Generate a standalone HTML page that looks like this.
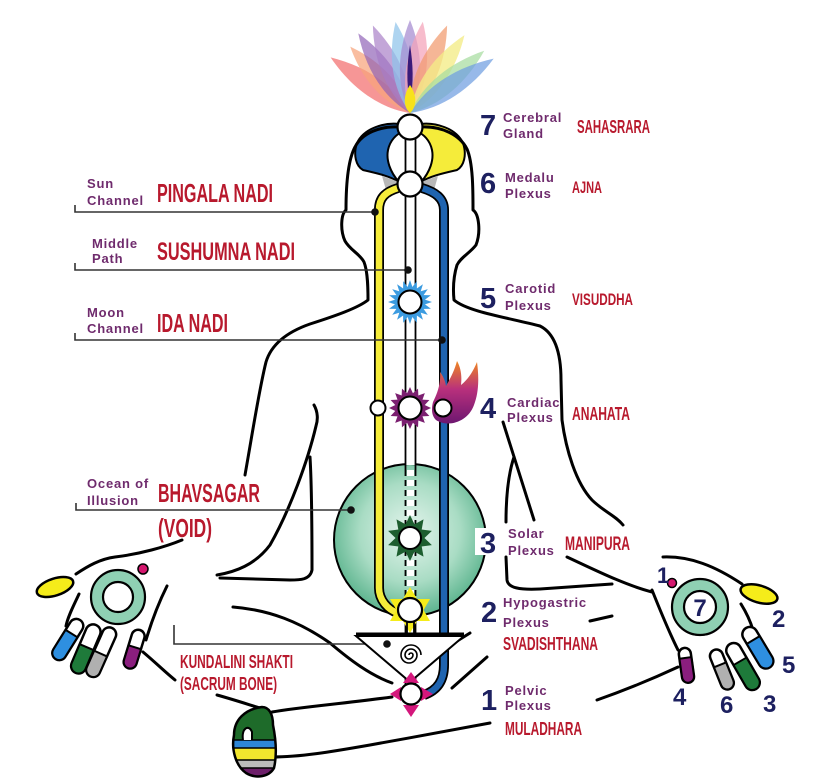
<!DOCTYPE html>
<html>
<head>
<meta charset="utf-8">
<style>
  html,body{margin:0;padding:0;background:#fff;}
  svg{display:block;}
  .sm{font-family:"Liberation Sans",Arial,sans-serif;font-weight:bold;font-size:13px;fill:#6f2b6d;letter-spacing:0.8px;}
  .rd{font-family:"Liberation Sans Narrow","Liberation Sans",Arial,sans-serif;font-weight:bold;fill:#b8192d;}
  .nm{font-family:"Liberation Sans",Arial,sans-serif;font-weight:bold;fill:#1d2060;}
  .ol{fill:none;stroke:#000;stroke-width:3;stroke-linecap:round;stroke-linejoin:round;}
  .pl{fill:none;stroke:#333;stroke-width:1.6;}
</style>
</head>
<body>
<svg width="825" height="784" viewBox="0 0 825 784" xmlns="http://www.w3.org/2000/svg">
<defs>
  <radialGradient id="gc" cx="0.5" cy="0.45" r="0.55">
    <stop offset="0" stop-color="#e6f5ee"/>
    <stop offset="0.6" stop-color="#a9dcc4"/>
    <stop offset="1" stop-color="#5cb48e"/>
  </radialGradient>
  <linearGradient id="fl" x1="0" y1="360" x2="0" y2="425" gradientUnits="userSpaceOnUse">
    <stop offset="0" stop-color="#f28a1e"/>
    <stop offset="0.45" stop-color="#b8307c"/>
    <stop offset="1" stop-color="#6a1670"/>
  </linearGradient>
  <polygon id="spB" points="-3.4,-12 0,-22 3.4,-12" fill="#3b9be0"/>
  <polygon id="spP" points="-4.2,-12 0,-21 4.2,-12" fill="#7b1f70"/>
  <polygon id="spG" points="-5.8,-11 0,-23 5.8,-11" fill="#1d5e2f"/>
  <path id="pet" d="M0,0 C-14,-28 -13,-62 0,-95 C13,-62 14,-28 0,0Z"/>
  <clipPath id="fistc"><path d="M262,707 C245,709 234,720 234,735 C231,750 236,766 246,773 C256,779 269,777 274,768 C277,755 276,740 273,725 C273,714 269,707 262,707 Z"/></clipPath>
</defs>

<rect width="825" height="784" fill="#fff"/>

<!-- Rainbow crown -->
<g transform="translate(410,113)">
  <use href="#pet" transform="rotate(-55) scale(1,1.02)" fill="#f26d6d" opacity="0.72"/>
  <use href="#pet" transform="rotate(-42) scale(1,0.94)" fill="#f6a37c" opacity="0.72"/>
  <use href="#pet" transform="rotate(-33)" fill="#8e5fb5" opacity="0.68"/>
  <use href="#pet" transform="rotate(-23)" fill="#a77cc5" opacity="0.68"/>
  <use href="#pet" transform="rotate(-9) scale(1,0.97)" fill="#8fc3ea" opacity="0.72"/>
  <use href="#pet" transform="rotate(0) scale(1,0.98)" fill="#a58bd0" opacity="0.72"/>
  <use href="#pet" transform="rotate(8) scale(1,0.97)" fill="#f4a2b8" opacity="0.72"/>
  <use href="#pet" transform="rotate(23)" fill="#f19a6e" opacity="0.72"/>
  <use href="#pet" transform="rotate(35)" fill="#f3ec86" opacity="0.78"/>
  <use href="#pet" transform="rotate(50) scale(1,1.02)" fill="#a6dca0" opacity="0.72"/>
  <use href="#pet" transform="rotate(57) scale(1,1.05)" fill="#6f9ee0" opacity="0.72"/>
  <path d="M0,-10 C-4,-30 -3,-50 0,-68 C3,-50 4,-30 0,-10Z" fill="#3a1a7a"/>
  <path d="M0,0 C-7,-6 -7,-18 0,-28 C7,-18 7,-6 0,0Z" fill="#f7e21a"/>
</g>

<!-- Head lobes -->
<path d="M400,124 C385,122 364,128 357,143 C353,155 356,166 363,170 C376,173 390,176 399,182 C390,172 386,160 388,150 C390,140 397,134 402,132 Z" fill="#1f64b0" stroke="#000" stroke-width="2"/>
<path d="M420,124 C435,122 456,128 463,143 C467,155 464,166 457,170 C444,173 430,176 421,182 C430,172 434,160 432,150 C430,140 423,134 418,132 Z" fill="#f5ec3a" stroke="#000" stroke-width="2"/>
<polygon points="382,176 399,182 397,193 386,190" fill="#b8b8b8"/>
<polygon points="438,176 421,182 423,193 434,190" fill="#b8b8b8"/>

<!-- Body outlines -->
<path class="ol" d="M399,127 C380,126 362,133 355,147 C348,160 346,185 346,210 C341,214 340,230 345,241 C350,250 360,254 364,262 C368,272 368,290 368,300 C358,308 335,316 310,324 C290,331 272,342 266,362 C259,390 253,430 245,475"/>
<path class="ol" d="M421,127 C442,126 460,135 467,149 C473,163 473,190 473,210 C479,214 481,232 476,245 C470,253 461,257 457,265 C453,278 453,290 454,300 C468,312 510,318 540,326 C556,334 561,355 561,380 L562,420 C566,450 576,483 592,500 C603,511 616,516 623,525"/>
<!-- right inner arm -->
<path class="ol" d="M503,422 L534,520"/>
<path class="ol" d="M514,457 C508,475 506,500 506,522"/>
<path class="ol" d="M506,557 L507,580 C508,588 520,590 540,589 L612,584"/>
<path class="ol" d="M567,557 C595,570 625,585 652,592"/>
<!-- left elbow -->
<path class="ol" d="M314,405 C318,412 318,420 316,426 C308,460 290,510 270,545 C255,565 235,572 217,575"/>
<path class="ol" d="M310,457 C312,490 312,540 312,570 C310,580 300,580 290,580 L220,578"/>
<!-- left hand top -->
<path class="ol" d="M182,540 C165,547 140,554 115,557 C100,559 88,566 76,574"/>
<path class="ol" d="M79,594 C74,605 68,616 66,626"/>
<path class="ol" d="M167,586 C160,600 152,620 146,640"/>
<!-- thigh / legs -->
<path class="ol" d="M233,607 C270,610 300,622 330,643 C350,660 370,675 392,683"/>
<path class="ol" d="M143,652 C155,662 165,672 175,680"/>
<path class="ol" d="M217,695 C235,700 250,705 260,708"/>
<path class="ol" d="M272,712 C300,707 340,704 392,697"/>
<path class="ol" d="M272,757 C300,757 330,752 370,745 C410,738 445,731 490,723"/>
<path class="ol" d="M449,646 L470,633"/>
<path class="ol" d="M590,621 L612,616"/>
<path class="ol" d="M452,688 L487,657"/>
<path class="ol" d="M597,700 C620,692 650,680 678,667"/>
<!-- right hand outline -->
<path class="ol" d="M663,557 C690,556 715,566 742,584"/>
<path class="ol" d="M741,604 C746,612 750,620 753,630"/>
<path class="ol" d="M652,590 C660,610 668,630 678,650"/>

<!-- Green ocean circle -->
<circle cx="410" cy="540" r="76" fill="url(#gc)" stroke="#000" stroke-width="2"/>

<!-- Sushumna central lines -->
<rect x="406" y="139" width="9" height="326" fill="#fff"/>
<line x1="405.5" y1="139" x2="405.5" y2="470" stroke="#000" stroke-width="1.8"/>
<line x1="415.5" y1="139" x2="415.5" y2="470" stroke="#000" stroke-width="1.8"/>
<line x1="410.5" y1="470" x2="410.5" y2="600" stroke="#fff" stroke-width="7" stroke-dasharray="6 4"/>
<line x1="405.5" y1="470" x2="405.5" y2="600" stroke="#000" stroke-width="1.8" stroke-dasharray="6 4"/>
<line x1="415.5" y1="470" x2="415.5" y2="600" stroke="#000" stroke-width="1.8" stroke-dasharray="6 4"/>
<rect x="406" y="620" width="9" height="70" fill="#fff"/>
<line x1="405.5" y1="620" x2="405.5" y2="690" stroke="#000" stroke-width="1.8"/>
<line x1="415.5" y1="620" x2="415.5" y2="690" stroke="#000" stroke-width="1.8"/>

<!-- Yellow (Pingala) channel -->
<path d="M398,188 C385,192 379,198 379,210 L379,588 C379,600 388,610 398,613" fill="none" stroke="#000" stroke-width="10"/>
<path d="M398,188 C385,192 379,198 379,210 L379,588 C379,600 388,610 398,613" fill="none" stroke="#f5ec3a" stroke-width="6.5"/>
<!-- Blue (Ida) channel -->
<path d="M422,188 C435,192 444,198 444,210 L444,665 C444,680 438,690 424,695" fill="none" stroke="#000" stroke-width="10"/>
<path d="M422,188 C435,192 444,198 444,210 L444,665 C444,680 438,690 424,695" fill="none" stroke="#1f64b0" stroke-width="6.5"/>

<!-- Pointer lines -->
<path class="pl" d="M75,205 V212 H376"/><circle cx="375" cy="212" r="3.8" fill="#111"/>
<path class="pl" d="M75,263 V270 H408"/><circle cx="408" cy="270" r="3.8" fill="#111"/>
<path class="pl" d="M75,333 V340 H442"/><circle cx="442" cy="340" r="3.8" fill="#111"/>
<path class="pl" d="M76,503 V510 H351"/><circle cx="351" cy="510" r="3.8" fill="#111"/>
<path class="pl" d="M174,625 V644 H387"/>

<!-- Chakra 7, 6 -->
<circle cx="410" cy="127" r="12.5" fill="#fff" stroke="#000" stroke-width="2.2"/>
<circle cx="410" cy="184" r="12.5" fill="#fff" stroke="#000" stroke-width="2.2"/>

<!-- Chakra 5 blue star -->
<g transform="translate(410,302)">
  <circle r="15" fill="#3b9be0"/>
  <use href="#spB"/><use href="#spB" transform="rotate(18)"/><use href="#spB" transform="rotate(36)"/><use href="#spB" transform="rotate(54)"/><use href="#spB" transform="rotate(72)"/>
  <use href="#spB" transform="rotate(90)"/><use href="#spB" transform="rotate(108)"/><use href="#spB" transform="rotate(126)"/><use href="#spB" transform="rotate(144)"/><use href="#spB" transform="rotate(162)"/>
  <use href="#spB" transform="rotate(180)"/><use href="#spB" transform="rotate(198)"/><use href="#spB" transform="rotate(216)"/><use href="#spB" transform="rotate(234)"/><use href="#spB" transform="rotate(252)"/>
  <use href="#spB" transform="rotate(270)"/><use href="#spB" transform="rotate(288)"/><use href="#spB" transform="rotate(306)"/><use href="#spB" transform="rotate(324)"/><use href="#spB" transform="rotate(342)"/>
  <circle r="11.5" fill="#fff" stroke="#000" stroke-width="2"/>
</g>

<!-- Flame -->
<path d="M436,420 C448,428 468,422 474,405 C479,392 479,377 477,362 C472,374 467,380 461,385 C462,376 461,368 457,361 C454,372 450,379 446,386 C445,380 443,376 440,372 C441,384 437,394 433,402 C431,410 432,416 436,420 Z" fill="url(#fl)"/>

<!-- Chakra 4 purple star -->
<g transform="translate(410,408)">
  <circle r="14.5" fill="#7b1f70"/>
  <use href="#spP"/><use href="#spP" transform="rotate(22.5)"/><use href="#spP" transform="rotate(45)"/><use href="#spP" transform="rotate(67.5)"/>
  <use href="#spP" transform="rotate(90)"/><use href="#spP" transform="rotate(112.5)"/><use href="#spP" transform="rotate(135)"/><use href="#spP" transform="rotate(157.5)"/>
  <use href="#spP" transform="rotate(180)"/><use href="#spP" transform="rotate(202.5)"/><use href="#spP" transform="rotate(225)"/><use href="#spP" transform="rotate(247.5)"/>
  <use href="#spP" transform="rotate(270)"/><use href="#spP" transform="rotate(292.5)"/><use href="#spP" transform="rotate(315)"/><use href="#spP" transform="rotate(337.5)"/>
  <circle r="11.5" fill="#fff" stroke="#000" stroke-width="2"/>
</g>
<circle cx="378" cy="408" r="7.5" fill="#fff" stroke="#000" stroke-width="2"/>
<circle cx="443" cy="408" r="8.5" fill="#fff" stroke="#000" stroke-width="2"/>

<!-- Chakra 3 green star -->
<g transform="translate(410,538)">
  <circle r="13.5" fill="#1d5e2f"/>
  <use href="#spG"/><use href="#spG" transform="rotate(36)"/><use href="#spG" transform="rotate(72)"/><use href="#spG" transform="rotate(108)"/><use href="#spG" transform="rotate(144)"/>
  <use href="#spG" transform="rotate(180)"/><use href="#spG" transform="rotate(216)"/><use href="#spG" transform="rotate(252)"/><use href="#spG" transform="rotate(288)"/><use href="#spG" transform="rotate(324)"/>
  <circle r="11" fill="#fff" stroke="#000" stroke-width="2"/>
</g>

<!-- Chakra 2 yellow star -->
<polygon points="410,587 430,621 390,621" fill="#f5ec1a"/>
<polygon points="410,633 430,599 390,599" fill="#f5ec1a"/>
<circle cx="410" cy="610" r="12" fill="#fff" stroke="#000" stroke-width="2.2"/>
<line x1="407" y1="622" x2="407" y2="635" stroke="#000" stroke-width="1.8"/>
<line x1="414" y1="622" x2="414" y2="635" stroke="#000" stroke-width="1.8"/>

<!-- Triangle with spiral -->
<polygon points="356,636 464,636 410,682" fill="#fff" stroke="#000" stroke-width="2"/>
<line x1="356" y1="634" x2="464" y2="634" stroke="#000" stroke-width="3"/>
<path d="M409,655 a2,2 0 1,1 4,0 a4,4 0 1,1 -8,0 a6,6 0 1,1 12,0 a8,8 0 1,1 -16,0 a10,10 0 1,1 20,0" fill="none" stroke="#000" stroke-width="1.6"/>
<circle cx="387" cy="644" r="3.8" fill="#111"/>

<!-- Chakra 1 -->
<polygon points="403,683 419,683 411,672" fill="#d4177c"/>
<polygon points="401,687 401,701 390,694" fill="#d4177c"/>
<polygon points="421,687 421,701 433,694" fill="#d4177c"/>
<polygon points="403,705 419,705 411,717" fill="#d4177c"/>
<circle cx="411" cy="694" r="10.5" fill="#fff" stroke="#000" stroke-width="2.2"/>

<!-- Left hand -->
<ellipse cx="55" cy="587" rx="19" ry="8.5" transform="rotate(-18 55 587)" fill="#f5ec1a" stroke="#000" stroke-width="2.5"/>
<g transform="translate(80,620) rotate(32)"><rect x="-7" y="0" width="14" height="46" rx="7" fill="#fff" stroke="#000" stroke-width="2.5"/><path d="M-7,16 H7 V39 A7,7 0 0 1 -7,39 Z" fill="#2e8fe0" stroke="#000" stroke-width="2"/></g>
<g transform="translate(96,625) rotate(23)"><rect x="-7.5" y="0" width="15" height="52" rx="7.5" fill="#fff" stroke="#000" stroke-width="2.5"/><path d="M-7.5,24 H7.5 V44.5 A7.5,7.5 0 0 1 -7.5,44.5 Z" fill="#1e7a3a" stroke="#000" stroke-width="2"/></g>
<g transform="translate(112,628) rotate(24)"><rect x="-7" y="0" width="14" height="53" rx="7" fill="#fff" stroke="#000" stroke-width="2.5"/><path d="M-7,28 H7 V46 A7,7 0 0 1 -7,46 Z" fill="#b0b0b0" stroke="#000" stroke-width="2"/></g>
<g transform="translate(140,630) rotate(17)"><rect x="-6.5" y="0" width="13" height="40" rx="6.5" fill="#fff" stroke="#000" stroke-width="2.5"/><path d="M-6.5,18 H6.5 V33.5 A6.5,6.5 0 0 1 -6.5,33.5 Z" fill="#8a1e7e" stroke="#000" stroke-width="2"/></g>
<circle cx="118" cy="597" r="27" fill="#8fd0b3" stroke="#000" stroke-width="2.2"/>
<circle cx="118" cy="597" r="15" fill="#fff" stroke="#000" stroke-width="2.2"/>
<circle cx="143" cy="569" r="5" fill="#d4176e" stroke="#000" stroke-width="1.5"/>

<!-- Right hand -->
<ellipse cx="759" cy="594" rx="19" ry="8.5" transform="rotate(16 759 594)" fill="#f5ec1a" stroke="#000" stroke-width="2.5"/>
<g transform="translate(746,628) rotate(-31)"><rect x="-7.5" y="0" width="15" height="46" rx="7.5" fill="#fff" stroke="#000" stroke-width="2.5"/><path d="M-7.5,14 H7.5 V38.5 A7.5,7.5 0 0 1 -7.5,38.5 Z" fill="#2e8fe0" stroke="#000" stroke-width="2"/></g>
<g transform="translate(730,644) rotate(-30)"><rect x="-7.5" y="0" width="15" height="52" rx="7.5" fill="#fff" stroke="#000" stroke-width="2.5"/><path d="M-7.5,20 H7.5 V44.5 A7.5,7.5 0 0 1 -7.5,44.5 Z" fill="#1e7a3a" stroke="#000" stroke-width="2"/></g>
<g transform="translate(714,650) rotate(-22)"><rect x="-6.5" y="0" width="13" height="42" rx="6.5" fill="#fff" stroke="#000" stroke-width="2.5"/><path d="M-6.5,16 H6.5 V35.5 A6.5,6.5 0 0 1 -6.5,35.5 Z" fill="#b0b0b0" stroke="#000" stroke-width="2"/></g>
<g transform="translate(684,648) rotate(-8)"><rect x="-6" y="0" width="12" height="35" rx="6" fill="#fff" stroke="#000" stroke-width="2.5"/><path d="M-6,10 H6 V29 A6,6 0 0 1 -6,29 Z" fill="#8a1e7e" stroke="#000" stroke-width="2"/></g>
<circle cx="700" cy="607" r="28" fill="#8fd0b3" stroke="#000" stroke-width="2.2"/>
<circle cx="700" cy="607" r="16" fill="#fff" stroke="#000" stroke-width="2.2"/>
<text x="700" y="616" text-anchor="middle" class="nm" font-size="24">7</text>
<circle cx="672" cy="583" r="4.5" fill="#d4176e" stroke="#000" stroke-width="1.5"/>
<text x="657" y="583" class="nm" font-size="22">1</text>
<text x="772" y="627" class="nm" font-size="24">2</text>
<text x="782" y="673" class="nm" font-size="24">5</text>
<text x="763" y="712" class="nm" font-size="24">3</text>
<text x="720" y="713" class="nm" font-size="24">6</text>
<text x="673" y="705" class="nm" font-size="24">4</text>

<!-- Fist -->
<g clip-path="url(#fistc)">
  <rect x="225" y="700" width="60" height="40" fill="#1e6b2a"/>
  <rect x="225" y="740" width="60" height="8" fill="#2e86d6"/>
  <rect x="225" y="748" width="60" height="12" fill="#f2e62e"/>
  <rect x="225" y="760" width="60" height="8" fill="#bcbcbc"/>
  <rect x="225" y="768" width="60" height="14" fill="#6d1f6a"/>
  <line x1="225" y1="740" x2="285" y2="740" stroke="#000" stroke-width="1.5"/>
  <line x1="225" y1="748" x2="285" y2="748" stroke="#000" stroke-width="1.5"/>
  <line x1="225" y1="760" x2="285" y2="760" stroke="#000" stroke-width="1.5"/>
  <line x1="225" y1="768" x2="285" y2="768" stroke="#000" stroke-width="1.5"/>
</g>
<path d="M262,707 C245,709 234,720 234,735 C231,750 236,766 246,773 C256,779 269,777 274,768 C277,755 276,740 273,725 C273,714 269,707 262,707 Z" fill="none" stroke="#000" stroke-width="2.5"/>
<path d="M243,740 C241,728 249,724 252,732 L252,740" fill="#fff" stroke="#000" stroke-width="2"/>

<!-- "3" white box -->
<rect x="475" y="528" width="28" height="27" fill="#fff"/>

<!-- Left labels -->
<text x="87" y="188" class="sm">Sun</text>
<text x="87" y="205" class="sm">Channel</text>
<text x="157" y="202" class="rd" font-size="26" textLength="116" lengthAdjust="spacingAndGlyphs">PINGALA NADI</text>
<text x="92" y="248" class="sm">Middle</text>
<text x="92" y="263" class="sm">Path</text>
<text x="157" y="260" class="rd" font-size="25" textLength="138" lengthAdjust="spacingAndGlyphs">SUSHUMNA NADI</text>
<text x="87" y="317" class="sm">Moon</text>
<text x="87" y="333" class="sm">Channel</text>
<text x="157" y="332" class="rd" font-size="26" textLength="71" lengthAdjust="spacingAndGlyphs">IDA NADI</text>
<text x="87" y="488" class="sm">Ocean of</text>
<text x="87" y="505" class="sm">Illusion</text>
<text x="158" y="502" class="rd" font-size="26" textLength="102" lengthAdjust="spacingAndGlyphs">BHAVSAGAR</text>
<text x="158" y="537" class="rd" font-size="26" textLength="54" lengthAdjust="spacingAndGlyphs">(VOID)</text>
<text x="180" y="668" class="rd" font-size="18" textLength="113" lengthAdjust="spacingAndGlyphs">KUNDALINI SHAKTI</text>
<text x="180" y="690" class="rd" font-size="18" textLength="97" lengthAdjust="spacingAndGlyphs">(SACRUM BONE)</text>

<!-- Right labels -->
<text x="480" y="135" class="nm" font-size="29">7</text>
<text x="503" y="122" class="sm">Cerebral</text>
<text x="503" y="138" class="sm">Gland</text>
<text x="577" y="133" class="rd" font-size="18" textLength="73" lengthAdjust="spacingAndGlyphs">SAHASRARA</text>

<text x="480" y="193" class="nm" font-size="29">6</text>
<text x="505" y="182" class="sm">Medalu</text>
<text x="505" y="198" class="sm">Plexus</text>
<text x="572" y="193" class="rd" font-size="17" textLength="30" lengthAdjust="spacingAndGlyphs">AJNA</text>

<text x="480" y="308" class="nm" font-size="29">5</text>
<text x="505" y="293" class="sm">Carotid</text>
<text x="505" y="310" class="sm">Plexus</text>
<text x="572" y="305" class="rd" font-size="17" textLength="61" lengthAdjust="spacingAndGlyphs">VISUDDHA</text>

<text x="480" y="418" class="nm" font-size="29">4</text>
<text x="507" y="407" class="sm">Cardiac</text>
<text x="507" y="422" class="sm">Plexus</text>
<text x="572" y="420" class="rd" font-size="18" textLength="58" lengthAdjust="spacingAndGlyphs">ANAHATA</text>

<text x="480" y="553" class="nm" font-size="29">3</text>
<text x="508" y="538" class="sm">Solar</text>
<text x="508" y="555" class="sm">Plexus</text>
<text x="565" y="550" class="rd" font-size="19" textLength="65" lengthAdjust="spacingAndGlyphs">MANIPURA</text>

<text x="481" y="622" class="nm" font-size="29">2</text>
<text x="503" y="607" class="sm">Hypogastric</text>
<text x="503" y="627" class="sm">Plexus</text>
<text x="503" y="650" class="rd" font-size="18" textLength="95" lengthAdjust="spacingAndGlyphs">SVADISHTHANA</text>

<text x="481" y="710" class="nm" font-size="29">1</text>
<text x="505" y="695" class="sm">Pelvic</text>
<text x="505" y="710" class="sm">Plexus</text>
<text x="505" y="735" class="rd" font-size="18" textLength="77" lengthAdjust="spacingAndGlyphs">MULADHARA</text>
</svg>
</body>
</html>
